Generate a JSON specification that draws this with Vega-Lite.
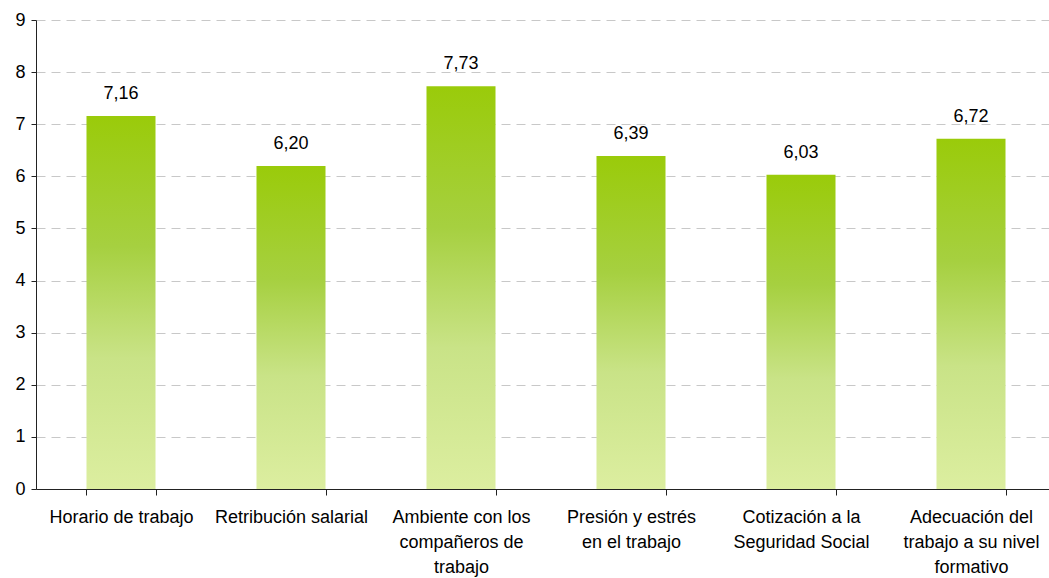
{
  "$schema": "https://vega.github.io/schema/vega-lite/v6.json",
  "autosize": {"type": "none"},
  "padding": {"left": 36, "top": 20, "right": 0, "bottom": 89},
  "width": 1020,
  "height": 469,
  "background": "white",
  "config": {
    "view": {"stroke": null},
    "font": "Liberation Sans",
    "locale": {"number": {"decimal": ",", "thousands": ".", "grouping": [3], "currency": ["", " €"]}}
  },
  "data": {"values": [
    {"cat": "Horario de trabajo", "val": 7.16},
    {"cat": "Retribución salarial", "val": 6.20},
    {"cat": "Ambiente con los compañeros de trabajo", "val": 7.73},
    {"cat": "Presión y estrés en el trabajo", "val": 6.39},
    {"cat": "Cotización a la Seguridad Social", "val": 6.03},
    {"cat": "Adecuación del trabajo a su nivel formativo", "val": 6.72}
  ]},
  "encoding": {
    "x": {
      "field": "cat", "type": "nominal", "sort": null,
      "scale": {"paddingInner": 0.594, "paddingOuter": 0.297},
      "axis": {
        "title": null, "labelAngle": 0, "tickBand": "extent",
        "domainColor": "#222222", "tickColor": "#222222", "tickSize": 6,
        "labelFontSize": 18, "labelColor": "#000000", "labelPadding": 13,
        "labelLineHeight": 25, "labelLimit": 0,
        "labelExpr": "datum.value == 'Ambiente con los compañeros de trabajo' ? ['Ambiente con los', 'compañeros de', 'trabajo'] : datum.value == 'Presión y estrés en el trabajo' ? ['Presión y estrés', 'en el trabajo'] : datum.value == 'Cotización a la Seguridad Social' ? ['Cotización a la', 'Seguridad Social'] : datum.value == 'Adecuación del trabajo a su nivel formativo' ? ['Adecuación del', 'trabajo a su nivel', 'formativo'] : datum.value"
      }
    },
    "y": {
      "field": "val", "type": "quantitative",
      "scale": {"domain": [0, 9], "nice": false},
      "axis": {
        "title": null, "values": [0, 1, 2, 3, 4, 5, 6, 7, 8, 9], "labelOverlap": false,
        "domainColor": "#222222", "tickColor": "#222222", "tickSize": 5,
        "labelFontSize": 18, "labelColor": "#000000", "labelPadding": 6,
        "gridColor": "#c8c8c8", "gridDash": [9, 6], "gridWidth": 1
      }
    }
  },
  "layer": [
    {
      "mark": {
        "type": "bar",
        "fill": {
          "gradient": "linear", "x1": 0, "y1": 0, "x2": 0, "y2": 1,
          "stops": [
            {"offset": 0, "color": "#9acb0a"},
            {"offset": 0.35, "color": "#a6d040"},
            {"offset": 0.65, "color": "#c9e387"},
            {"offset": 1, "color": "#dceea0"}
          ]
        }
      }
    },
    {
      "mark": {"type": "text", "baseline": "bottom", "dy": -13, "fontSize": 18, "color": "#000000"},
      "encoding": {"text": {"field": "val", "type": "quantitative", "format": ".2f"}}
    }
  ]
}
